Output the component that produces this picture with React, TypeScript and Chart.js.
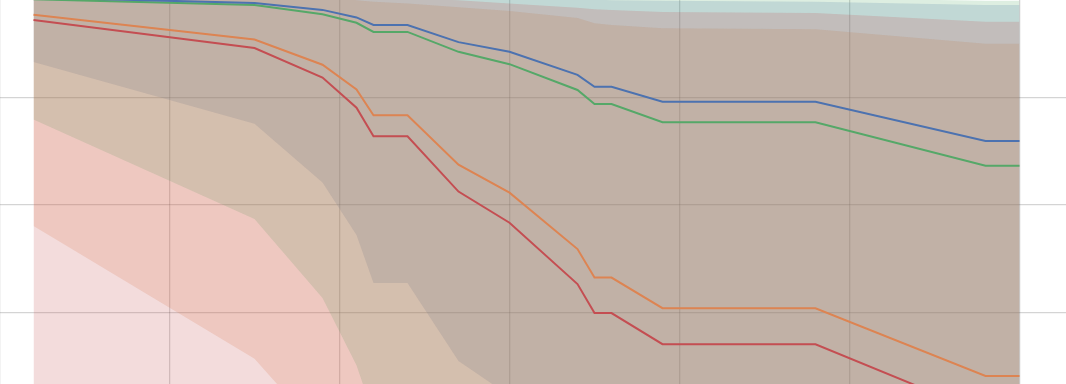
import { useEffect, useRef } from "react";
import { Chart, registerables } from "chart.js";

Chart.register(...registerables);

// time points (shared by all series)
const times = [2, 15, 19, 21, 22, 24, 27, 30, 34, 35, 36, 39, 48, 58, 60];

// survival estimates
const blueSurv = [0.986, 0.976, 0.963, 0.949, 0.935, 0.935, 0.903, 0.885, 0.842, 0.82, 0.82, 0.792, 0.792, 0.719, 0.719];
const greenSurv = [0.983, 0.972, 0.955, 0.939, 0.922, 0.922, 0.885, 0.862, 0.814, 0.788, 0.788, 0.754, 0.754, 0.673, 0.673];
const orangeSurv = [0.954, 0.908, 0.861, 0.815, 0.767, 0.767, 0.675, 0.623, 0.518, 0.465, 0.465, 0.408, 0.408, 0.282, 0.282];
const redSurv = [0.944, 0.892, 0.837, 0.781, 0.728, 0.728, 0.625, 0.567, 0.453, 0.399, 0.399, 0.341, 0.341, 0.211, 0.211];

// confidence bounds
const blueLow = [0.866, 0.751, 0.642, 0.544, 0.455, 0.455, 0.31, 0.245, 0.17, 0.15, 0.15, 0.12, 0.12, 0.08, 0.08];
const blueHigh = [1.0, 1.0, 1.0, 0.998, 0.996, 0.994, 0.99, 0.988, 0.984, 0.982, 0.981, 0.98, 0.978, 0.972, 0.972];
const greenLow = [0.759, 0.574, 0.427, 0.302, 0.209, 0.209, 0.12, 0.08, 0.04, 0.03, 0.03, 0.02, 0.02, 0.01, 0.01];
const greenHigh = [1.0, 1.0, 1.0, 1.0, 1.0, 1.0, 1.0, 1.0, 1.0, 1.0, 1.0, 0.995, 0.985, 0.98, 0.98];
const orangeLow = [0.561, 0.314, 0.172, 0.13, 0.11, 0.11, 0.06, 0.04, 0.02, 0.01, 0.01, 0.0, 0.0, 0.0, 0.0];
const orangeHigh = [1.0, 0.995, 0.987, 0.981, 0.978, 0.975, 0.968, 0.961, 0.948, 0.938, 0.935, 0.929, 0.927, 0.9, 0.9];
const redLow = [0.22, 0.12, 0.08, 0.06, 0.05, 0.05, 0.03, 0.02, 0.01, 0.0, 0.0, 0.0, 0.0, 0.0, 0.0];
const redHigh = [1.0, 1.0, 0.995, 0.99, 0.988, 0.984, 0.981, 0.975, 0.967, 0.964, 0.963, 0.959, 0.957, 0.941, 0.941];

// grid ticks
const xTicks = [0, 10, 20, 30, 40, 50, 60];
const yTicks = [0.4, 0.6, 0.8];

const X_MIN = 0.0294;
const X_MAX = 62.7353;
const Y_MIN = 0.26698;
const Y_MAX = 0.9814;

const BLUE = "76,114,176";
const ORANGE = "221,132,82";
const GREEN = "85,168,104";
const RED = "196,78,82";

function pts(ys: number[]) {
  return times.map((t, i) => ({ x: t, y: ys[i] }));
}

export default function App() {
  const ref = useRef<HTMLCanvasElement>(null);

  useEffect(() => {
    if (!ref.current) return;
    const line = (label: string, rgb: string, ys: number[]) => ({
      label,
      data: pts(ys),
      borderColor: `rgb(${rgb})`,
      borderWidth: 2,
      pointRadius: 0,
      fill: false,
      tension: 0,
    });
    const edge = (ys: number[]) => ({
      label: "",
      data: pts(ys),
      borderColor: "rgba(0,0,0,0)",
      borderWidth: 0,
      pointRadius: 0,
      fill: false,
      tension: 0,
    });
    const upper = (ys: number[], rgb: string, target: number) => ({
      label: "",
      data: pts(ys),
      borderColor: "rgba(0,0,0,0)",
      borderWidth: 0,
      pointRadius: 0,
      tension: 0,
      fill: target,
      backgroundColor: `rgba(${rgb},0.2)`,
    });

    // Chart.js draws higher indices first: blue band bottom, then orange, green, red on top.
    const datasets: any[] = [
      line("blue", BLUE, blueSurv), // 0
      line("green", GREEN, greenSurv), // 1
      line("orange", ORANGE, orangeSurv), // 2
      line("red", RED, redSurv), // 3
      edge(redLow), // 4
      upper(redHigh, RED, 4), // 5
      edge(greenLow), // 6
      upper(greenHigh, GREEN, 6), // 7
      edge(orangeLow), // 8
      upper(orangeHigh, ORANGE, 8), // 9
      edge(blueLow), // 10
      upper(blueHigh, BLUE, 10), // 11
    ];

    const gridCfg = {
      color: "rgba(0,0,0,0.17)",
      lineWidth: 1.3,
      drawTicks: false,
    };

    const chart = new Chart(ref.current, {
      type: "line",
      data: { datasets },
      options: {
        animation: false,
        responsive: false,
        layout: { padding: 0 },
        plugins: { legend: { display: false }, tooltip: { enabled: false } },
        scales: {
          x: {
            type: "linear",
            min: X_MIN,
            max: X_MAX,
            afterBuildTicks: (s: any) => {
              s.ticks = xTicks.map((v) => ({ value: v }));
            },
            grid: gridCfg,
            ticks: { display: false },
            border: { display: false },
          },
          y: {
            type: "linear",
            min: Y_MIN,
            max: Y_MAX,
            afterBuildTicks: (s: any) => {
              s.ticks = yTicks.map((v) => ({ value: v }));
            },
            grid: gridCfg,
            ticks: { display: false },
            border: { display: false },
          },
        },
      } as any,
    });
    return () => chart.destroy();
  }, []);

  return (
    <div style={{ position: "absolute", left: 0, top: 0, width: 1066, height: 384, background: "#fff" }}>
      <canvas ref={ref} width={1066} height={384} />
    </div>
  );
}
